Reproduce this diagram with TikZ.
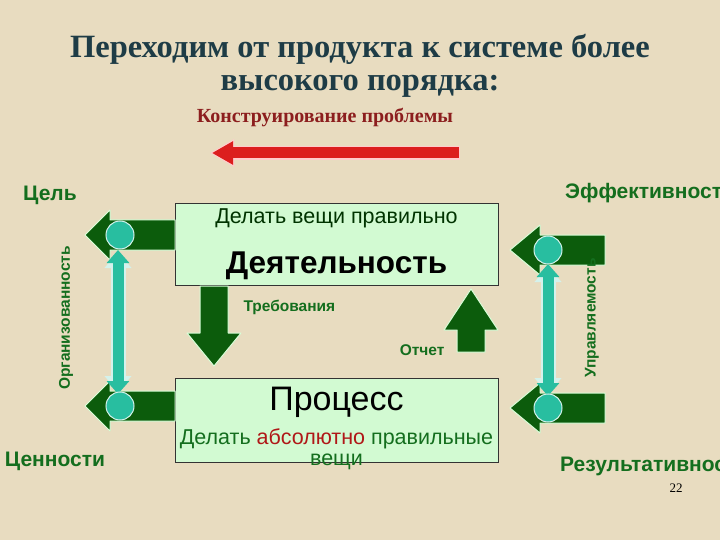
\documentclass[tikz,border=0pt]{standalone}
\usepackage{fontspec}
\setmainfont{Liberation Serif}
\newfontfamily\sans{Liberation Sans}
\usetikzlibrary{arrows.meta}
\definecolor{bg}{RGB}{232,220,192}
\definecolor{dg}{RGB}{12,92,12}
\definecolor{tg}{RGB}{20,110,30}
\definecolor{teal1}{RGB}{40,190,160}
\definecolor{boxg}{RGB}{210,250,210}
\definecolor{ttl}{RGB}{30,60,70}
\definecolor{sub}{RGB}{140,30,30}
\definecolor{redar}{RGB}{220,30,30}
\begin{document}
\begin{tikzpicture}[x=1pt,y=-1pt,
  lbl/.style={font=\sans\bfseries\fontsize{21}{24}\selectfont,text=tg,inner sep=0pt},
  sm/.style={font=\sans\bfseries\fontsize{15.5}{18}\selectfont,text=tg},
  blk/.style={fill=dg,draw=white!85!green,line width=1pt,line join=round},
  bx/.style={draw=black!80,fill=boxg,line width=0.8pt,minimum width=323pt,inner sep=0pt},
  circ/.style={circle,fill=teal1,draw=white!80!teal1,line width=1pt,minimum width=28pt,minimum height=26pt,inner sep=0pt}]
\fill[bg] (0,0) rectangle (720,540);
\useasboundingbox (0,0) rectangle (720,540);
% title
\node[font=\bfseries\fontsize{32.5}{33}\selectfont,text=ttl,align=center] (title) at (360,66) {Переходим от продукта к системе более\\высокого порядка:};
\node[font=\bfseries\fontsize{20}{22}\selectfont,text=sub] (sub) at (325,118) {Конструирование проблемы};
% red arrow
\coordinate (ra) at (460,153); \coordinate (rb) at (210,153);
\draw[white!80!red,line width=14pt,-{Triangle[length=24pt,width=26pt]}] (ra) -- (rb);
\draw[redar,line width=11pt,-{Triangle[length=21pt,width=22pt]}] ([xshift=-1.5pt]ra) -- ([xshift=2pt]rb);
% boxes
\node[bx,minimum height=82pt] (act) at (336.5,244) {};
\node[font=\sans\fontsize{21.5}{24}\selectfont,text=black!80!green] (actt) at (336.5,218) {Делать вещи правильно};
\node[font=\sans\bfseries\fontsize{31.5}{34}\selectfont] (acttt) at (336.5,266) {Деятельность};
\node[bx,minimum height=84pt] (proc) at (336.5,420) {};
\node[font=\sans\fontsize{34}{36}\selectfont] (proct) at (336.5,402) {Процесс};
\node[font=\sans\fontsize{21.5}{21}\selectfont,text=tg,align=center] (procd) at (336.5,449) {Делать \textcolor{redar!80!black}{абсолютно} правильные\\вещи};
% down arrow
\path[blk] (200,286) -- (228,286) -- (228,333) -- (241,333) -- (214,366) -- (187,333) -- (200,333) -- cycle;
\node[sm,anchor=west] (req) at (240,307) {Требования};
% up arrow
\path[blk] (457,352) -- (485,352) -- (485,330) -- (498,330) -- (471,289) -- (444,330) -- (457,330) -- cycle;
\node[sm,anchor=east] (rep) at (448,350) {Отчет};
% block arrows
\foreach \yy in {235,406}{
 \path[blk] (175,\yy-15) -- (110,\yy-15) -- (110,\yy-25) -- (85,\yy) -- (110,\yy+25) -- (110,\yy+15) -- (175,\yy+15) -- cycle;}
\foreach \yy in {250,408}{
 \path[blk] (605,\yy-15) -- (540,\yy-15) -- (540,\yy-25) -- (510,\yy) -- (540,\yy+25) -- (540,\yy+15) -- (605,\yy+15) -- cycle;}
% double arrows
\coordinate (l1) at (118,252); \coordinate (l2) at (118,392);
\draw[white!80!teal1,line width=15pt,{Triangle[length=16pt,width=26pt]}-{Triangle[length=16pt,width=26pt]}] (l1) -- (l2);
\draw[teal1,line width=11pt,{Triangle[length=13pt,width=22pt]}-{Triangle[length=13pt,width=22pt]}] ([yshift=2pt]l1) -- ([yshift=-2pt]l2);
\coordinate (r1) at (548,266); \coordinate (r2) at (548,394);
\draw[white!80!teal1,line width=15pt,{Triangle[length=16pt,width=26pt]}-{Triangle[length=16pt,width=26pt]}] (r1) -- (r2);
\draw[teal1,line width=11pt,{Triangle[length=13pt,width=22pt]}-{Triangle[length=13pt,width=22pt]}] ([yshift=2pt]r1) -- ([yshift=-2pt]r2);
\node[circ] (c1) at (120,235) {};
\node[circ] (c2) at (120,406) {};
\node[circ] (c3) at (548,250) {};
\node[circ] (c4) at (548,408) {};
% labels
\node[lbl] (goal) at (50,195) {Цель};
\node[lbl,anchor=west] (eff) at (565,193) {Эффективность};
\node[lbl] (val) at (55,461) {Ценности};
\node[lbl,anchor=west] (res) at (560,466) {Результативность};
\node[sm,rotate=90] (org) at (66,318) {Организованность};
\node[sm,rotate=90] (man) at (592,318) {Управляемость};
\node[font=\fontsize{13}{14}\selectfont] (num) at (676,488) {22};
\end{tikzpicture}
\end{document}
